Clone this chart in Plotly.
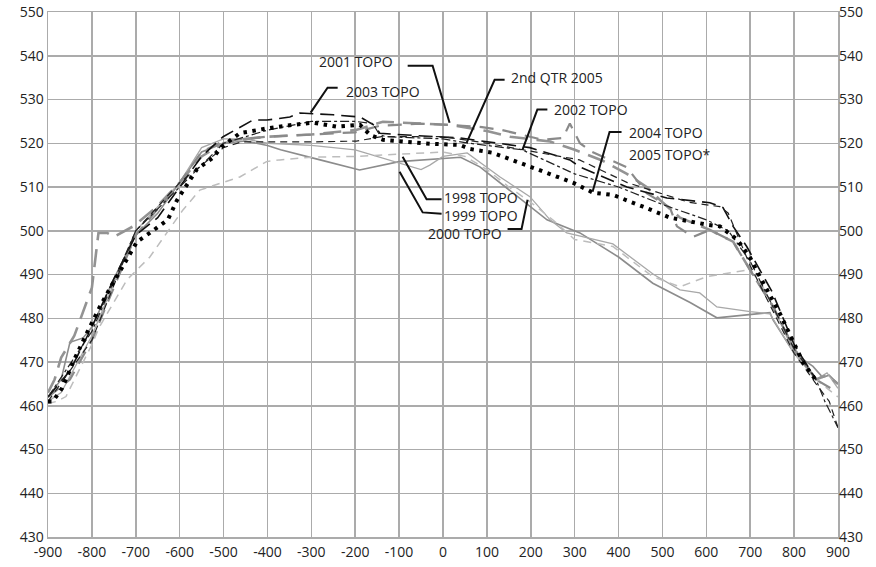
import plotly.graph_objects as go

# ---------------- data ----------------
x_1998 = [-900, -870, -850, -820, -800, -750, -700, -650, -600, -550, -500, -450, -400, -370, -280, -190, -100, 40, 84, 160, 237, 312, 400, 478, 563, 624, 700, 745, 752, 800, 843, 865, 880, 900]
y_1998 = [462, 466, 474.5, 475.5, 478, 489, 499, 504, 511, 518, 520, 520.5, 519.5, 518.5, 516.2, 513.9, 515.8, 516.8, 514.6, 508.6, 502.5, 499.5, 494, 488, 483.6, 480.1, 480.8, 481.3, 479.6, 472, 469, 466.5, 467, 465]

x_1999 = [-900, -870, -800, -700, -600, -550, -500, -450, -400, -300, -200, -150, -100, -50, -30, 0, 55, 130, 198, 244, 282, 387, 480, 540, 585, 624, 700, 745, 800, 850, 875, 900]
y_1999 = [461, 463, 476, 500, 511, 519, 521, 521, 520, 519.5, 518.5, 517, 515.5, 514, 515, 517, 517.8, 512.3, 507.8, 502.5, 499.5, 497, 490, 486.5, 485.8, 482.6, 481.5, 481, 472, 466, 467.5, 464]

x_2000 = [-900, -880, -859, -800, -783, -720, -668, -629, -593, -554, -463, -402, -372, -300, -200, -100, 0, 50, 100, 150, 200, 250, 300, 387, 478, 540, 601, 692, 720, 760, 800, 850, 900]
y_2000 = [460.5, 461, 462.1, 474, 478, 488.8, 494, 499.5, 504.7, 509.3, 512.3, 515.8, 516.2, 516.8, 517, 517.5, 518, 517, 514, 510, 506.5, 502.5, 498, 496.4, 489.5, 487.2, 489.5, 491, 489, 481, 472, 466, 462]

x_2001 = [-900, -885, -870, -840, -800, -785, -765, -750, -706, -652, -600, -550, -500, -450, -400, -300, -200, -137, 16, 100, 153, 244, 300, 364, 419, 464, 500, 540, 608, 661, 700, 750, 800, 850, 875, 900]
y_2001 = [463, 466, 471, 476, 487, 499.5, 499.5, 498.6, 501, 505.5, 511, 517, 520, 521, 521.5, 522, 523, 524.9, 524.2, 522.8, 521.5, 520.4, 518.5, 516, 513, 510, 506.5, 503, 500.2, 497.5, 491, 483, 473, 466, 467, 465]

x_2002 = [-900, -850, -800, -700, -600, -550, -500, -400, -300, -200, -144, -53, 45, 89, 135, 227, 273, 289, 312, 340, 419, 464, 517, 533, 570, 608, 661, 700, 750, 800, 850, 900]
y_2002 = [462, 466, 475, 499, 511, 518, 520.5, 521.5, 522, 522.5, 524, 524.5, 524, 523.7, 523, 520.8, 521.2, 524.5, 520, 518, 514.5, 508.6, 505.3, 501, 498.6, 500.2, 497.5, 491, 483, 473, 466, 463]

x_2003 = [-900, -850, -800, -750, -700, -650, -600, -550, -501, -433, -401, -349, -326, -250, -189, -155, -144, -105, 39, 123, 198, 289, 312, 419, 510, 608, 638, 661, 692, 750, 800, 850]
y_2003 = [462, 468, 478, 489, 499, 503, 510, 517, 521.5, 525.3, 525.3, 526, 526.9, 526.5, 526, 524, 522.3, 522, 521.2, 520, 519, 516.2, 514.6, 510, 507.5, 506.4, 505.3, 501, 496.4, 486, 474, 466]

x_2004 = [-900, -800, -700, -600, -500, -459, -300, -197, -140, 0, 83, 181, 311, 420, 500, 560, 631, 650, 700, 800, 850, 880, 900]
y_2004 = [461, 475, 500, 511, 519, 520.3, 520.3, 520.5, 521.5, 521.5, 520.3, 518.5, 516.2, 511, 508.5, 506.5, 505.5, 504, 492, 472, 465, 461, 455]

x_2005 = [-900, -800, -700, -600, -520, -500, -400, -300, -200, -160, -145, -130, 0, 60, 180, 300, 400, 500, 600, 650, 700, 800, 850, 870, 900]
y_2005 = [462, 477, 500, 510, 518, 520, 523, 525, 525, 524.5, 522, 521.5, 521, 520, 518.5, 513, 510, 506, 502.5, 500, 493, 473, 466, 461, 455]

x_2q05 = [-900, -889, -868, -838, -811, -782, -754, -720, -697, -668, -627, -606, -561, -524, -504, -463, -401, -342, -296, -242, -189, -166, -137, -82, -30, 39, 61, 114, 175, 251, 296, 342, 387, 456, 517, 601, 631, 670, 699, 722, 768, 820, 852]
y_2q05 = [461, 461, 464, 471, 476.7, 482.6, 487.7, 493.4, 497.5, 499.5, 502.5, 507, 514, 516.7, 519.2, 522.3, 523.4, 524.2, 524.7, 523.8, 524.2, 521.9, 520.8, 520.3, 519.9, 519.6, 518.7, 517.8, 515.5, 512.8, 511, 508.7, 508.2, 505.5, 503, 501.4, 501, 498, 494, 489.5, 481, 470, 465.5]

x_ticks = list(range(-900, 901, 100))
y_ticks = list(range(430, 551, 10))

# label text, label anchor (data coords), leader line (data coords)
labels = [
    ("2001 TOPO", (-285.6, 538.6), [(-80.5, 537.7), (-23.7, 537.7), (15, 524.7)]),
    ("2003 TOPO", (-224.1, 531.8), [(-240, 532.7), (-263, 532.7), (-301.6, 527)]),
    ("2nd QTR 2005", (151.7, 535.0), [(140.4, 534.5), (117.6, 534.5), (53.7, 520.1)]),
    ("2002 TOPO", (249.7, 527.7), [(237.8, 527.7), (215, 527.7), (181, 518.5)]),
    ("2004 TOPO", (420.5, 522.4), [(406.8, 522.6), (379.5, 522.6), (340.8, 508.9)]),
    ("2005 TOPO*", (420.5, 517.4), []),
    ("1998 TOPO", (-0.9, 507.7), [(-3.2, 507.2), (-37.4, 507.2), (-92, 516.9)]),
    ("1999 TOPO", (-0.9, 503.5), [(-3.2, 503.9), (-46.3, 504.2), (-98.9, 513.5)]),
    ("2000 TOPO", (-37.4, 499.3), [(147.1, 500.4), (179, 500.4), (192.7, 507.1)]),
]

# ---------------- figure ----------------
series = [
    ("1998 TOPO", x_1998, y_1998, dict(color="#8c8c8c", width=1.6, dash="solid")),
    ("1999 TOPO", x_1999, y_1999, dict(color="#a8a8a8", width=1.3, dash="solid")),
    ("2000 TOPO", x_2000, y_2000, dict(color="#bdbdbd", width=1.5, dash="8px,6px")),
    ("2001 TOPO", x_2001, y_2001, dict(color="#939393", width=2.6, dash="18px,9px")),
    ("2002 TOPO", x_2002, y_2002, dict(color="#8a8a8a", width=2.2, dash="14px,9px")),
    ("2003 TOPO", x_2003, y_2003, dict(color="#111111", width=1.6, dash="14px,7px")),
    ("2004 TOPO", x_2004, y_2004, dict(color="#222222", width=1.2, dash="7px,5px")),
    ("2005 TOPO*", x_2005, y_2005, dict(color="#222222", width=1.2, dash="dashdot")),
    ("2nd QTR 2005", x_2q05, y_2q05, dict(color="#000000", width=4.0, dash="3.5px,5.5px")),
]

fig = go.Figure()
for name, xs, ys, ln in series:
    fig.add_trace(go.Scatter(x=xs, y=ys, mode="lines", name=name, line=ln,
                             hoverinfo="skip"))

# invisible trace so the right-hand axis is drawn
fig.add_trace(go.Scatter(x=[x_ticks[0]], y=[y_ticks[0]], yaxis="y2", mode="markers",
                         marker=dict(opacity=0), showlegend=False, hoverinfo="skip"))

font_family = "Open Sans"
for text, (ax, ay), leader in labels:
    fig.add_annotation(x=ax, y=ay, text=text, showarrow=False, xanchor="left",
                       yanchor="middle", borderpad=0,
                       font=dict(family=font_family, size=14, color="#222222"))
    if leader:
        path = "M " + " L ".join(f"{px},{py}" for px, py in leader)
        fig.add_shape(type="path", path=path, xref="x", yref="y",
                      line=dict(color="#111111", width=2))

grid = "#ababab"
tickfont = dict(family=font_family, size=14, color="#222222")
axis_common = dict(showgrid=True, gridcolor=grid, gridwidth=1.5, zeroline=False,
                   showline=True, linecolor=grid, linewidth=1.5, ticks="",
                   automargin=False, tickfont=tickfont)

fig.update_layout(
    width=876, height=567,
    margin=dict(l=48, r=38, t=12, b=30, autoexpand=False),
    paper_bgcolor="white", plot_bgcolor="white",
    showlegend=False,
    xaxis=dict(range=[-900, 900], tickvals=x_ticks, ticktext=[str(v) for v in x_ticks],
               mirror=True, ticklabelstandoff=2, **axis_common),
    yaxis=dict(range=[430, 550], tickvals=y_ticks, mirror=True, **axis_common),
    yaxis2=dict(range=[430, 550], tickvals=y_ticks, overlaying="y", side="right",
                showgrid=False, zeroline=False, showline=False, ticks="",
                automargin=False, tickfont=tickfont),
)

fig.write_html("out.html",
               config={"displayModeBar": False, "staticPlot": True},
               post_script="document.body.style.margin='0';document.body.style.overflow='hidden';")
